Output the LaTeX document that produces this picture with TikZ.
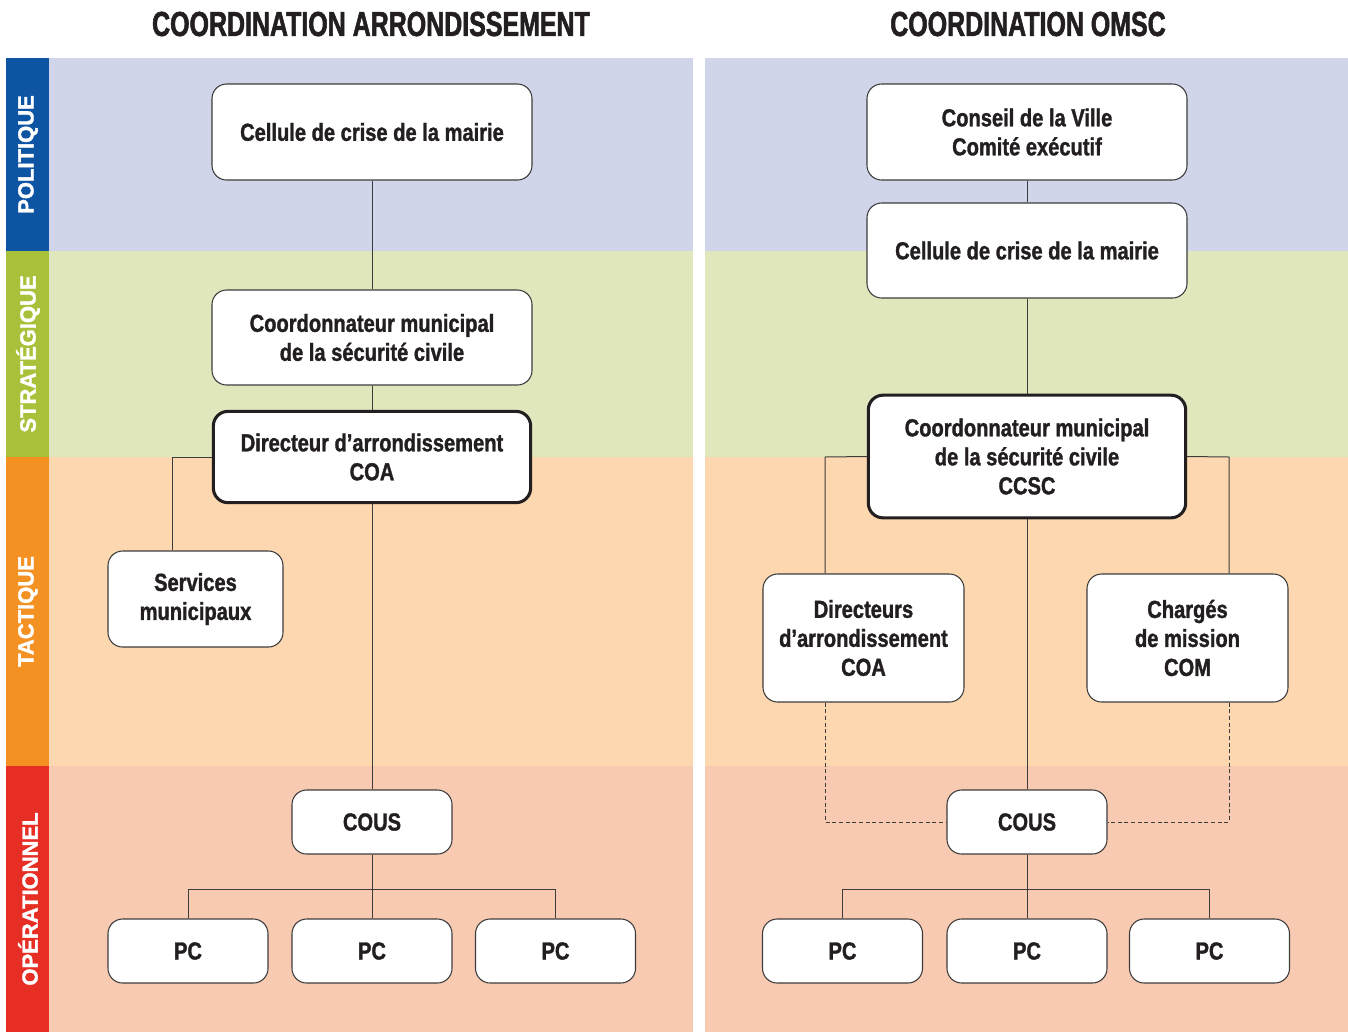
\documentclass[tikz,border=0pt]{standalone}
\usepackage{fontspec}
\setmainfont{Liberation Sans}
\newfontfamily\condfont{Liberation Sans}[UprightFont={* Bold}, BoldFont={* Bold}, FakeStretch=0.815, FakeBold=1.3]
\newfontfamily\titlefont{Liberation Sans}[UprightFont={* Bold}, BoldFont={* Bold}, FakeStretch=0.72, FakeBold=1.6]
\newfontfamily\sidefont{Liberation Sans}[UprightFont={* Bold}, BoldFont={* Bold}, FakeBold=1.5]
\definecolor{polbg}{HTML}{D0D5EA}
\definecolor{strbg}{HTML}{E0E7BD}
\definecolor{tacbg}{HTML}{FDD7AF}
\definecolor{opbg}{HTML}{F8CAB2}
\definecolor{polst}{HTML}{0D55A3}
\definecolor{strst}{HTML}{A7C23A}
\definecolor{tacst}{HTML}{F39123}
\definecolor{opst}{HTML}{E62E25}
\definecolor{linec}{HTML}{3C3C3C}
\definecolor{txt}{HTML}{231F20}
\tikzset{
  box/.style={draw=linec, line width=0.8pt, fill=white, rounded corners=11pt, align=center,
    font=\condfont\fontsize{18.5}{21.75}\selectfont, text=txt, inner sep=0pt},
  thickbox/.style={box, line width=2.3pt, draw=txt},
  conn/.style={draw=linec, line width=0.75pt},
  dconn/.style={draw=linec, line width=0.75pt, dash pattern=on 3pt off 2pt},
  sidelab/.style={rotate=90, text=white, font=\sidefont\fontsize{16.5}{17}\selectfont, inner sep=0pt},
  ttl/.style={text=txt, font=\titlefont\fontsize{26}{28}\selectfont, inner sep=0pt},
  pcbox/.style={box, minimum width=120pt, minimum height=48pt}
}
\begin{document}
\begin{tikzpicture}[x=0.75pt, y=-0.75pt]
\useasboundingbox (0,0) rectangle (1348,1032);
\fill[white] (0,0) rectangle (1348,1032);
% backgrounds
\foreach \xa/\xb in {49/693, 705/1348}{
  \fill[polbg] (\xa,58) rectangle (\xb,251);
  \fill[strbg] (\xa,251) rectangle (\xb,457);
  \fill[tacbg] (\xa,457) rectangle (\xb,766);
  \fill[opbg] (\xa,766) rectangle (\xb,1032);
}
\fill[polst] (6,58) rectangle (49,251);
\fill[strst] (6,251) rectangle (49,457);
\fill[tacst] (6,457) rectangle (49,766);
\fill[opst] (6,766) rectangle (49,1032);
\node[sidelab] (lpol) at (28,154.5) {POLITIQUE};
\node[sidelab] (lstr) at (28,354) {STRATÉGIQUE};
\node[sidelab] (ltac) at (28,611.5) {TACTIQUE};
\node[sidelab] (lop) at (28,899) {OPÉRATIONNEL};
% titles
\node[ttl] (t1) at (371,24) {COORDINATION ARRONDISSEMENT};
\node[ttl] (t2) at (1028,24) {COORDINATION OMSC};
% left column
\node[box, minimum width=240pt, minimum height=72pt] (lcel) at (372,132) {Cellule de crise de la mairie};
\node[box, minimum width=240pt, minimum height=71.25pt] (lcoord) at (372,337.5) {Coordonnateur municipal\\de la sécurité civile};
\node[thickbox, minimum width=238pt, minimum height=68.5pt] (ldir) at (372,457) {Directeur d’arrondissement\\COA};
\node[box, minimum width=131.25pt, minimum height=72pt] (lserv) at (195.5,599) {Services\\municipaux};
\node[pcbox] (lcous) at (372,822) {COUS};
\node[pcbox] (lpc1) at (188,951) {PC};
\node[pcbox] (lpc2) at (372,951) {PC};
\node[pcbox] (lpc3) at (555.5,951) {PC};
\coordinate (lsk) at (172,457);
\coordinate (lbus) at (372,889);
\draw[conn] (lcel.south) -- (lcoord.north);
\draw[conn] (lcoord.south) -- (ldir.north);
\draw[conn] (ldir.west) -- (lsk) -- (lsk |- lserv.north);
\draw[conn] (ldir.south) -- (lcous.north);
\draw[conn] (lcous.south) -- (lpc2.north);
\draw[conn] (lpc1.north) |- (lbus) -| (lpc3.north);
% right column
\node[box, minimum width=240pt, minimum height=72pt] (rcon) at (1027,132) {Conseil de la Ville\\Comité exécutif};
\node[box, minimum width=240pt, minimum height=71.25pt] (rcel) at (1027,250.5) {Cellule de crise de la mairie};
\node[thickbox, minimum width=238pt, minimum height=92pt] (rccsc) at (1027,456.5) {Coordonnateur municipal\\de la sécurité civile\\CCSC};
\node[box, minimum width=150.75pt, minimum height=96pt] (rdir) at (863.5,638) {Directeurs\\d’arrondissement\\COA};
\node[box, minimum width=150.75pt, minimum height=96pt] (rchg) at (1187.5,638) {Chargés\\de mission\\COM};
\node[pcbox] (rcous) at (1027,822) {COUS};
\node[pcbox] (rpc1) at (842.5,951) {PC};
\node[pcbox] (rpc2) at (1027,951) {PC};
\node[pcbox] (rpc3) at (1209.5,951) {PC};
\coordinate (rskl) at (825,457);
\coordinate (rskr) at (1229,457);
\coordinate (rdl) at (825,822);
\coordinate (rdr) at (1229,822);
\coordinate (rbus) at (1027,889);
\draw[conn] (rcon.south) -- (rcel.north);
\draw[conn] (rcel.south) -- (rccsc.north);
\draw[conn] (rccsc.west) -- (rskl) -- (rskl |- rdir.north);
\draw[conn] (rccsc.east) -- (rskr) -- (rskr |- rchg.north);
\draw[conn] (rccsc.south) -- (rcous.north);
\draw[dconn] (rskl |- rdir.south) -- (rdl) -- (rcous.west);
\draw[dconn] (rskr |- rchg.south) -- (rdr) -- (rcous.east);
\draw[conn] (rcous.south) -- (rpc2.north);
\draw[conn] (rpc1.north) |- (rbus) -| (rpc3.north);
\end{tikzpicture}
\end{document}
